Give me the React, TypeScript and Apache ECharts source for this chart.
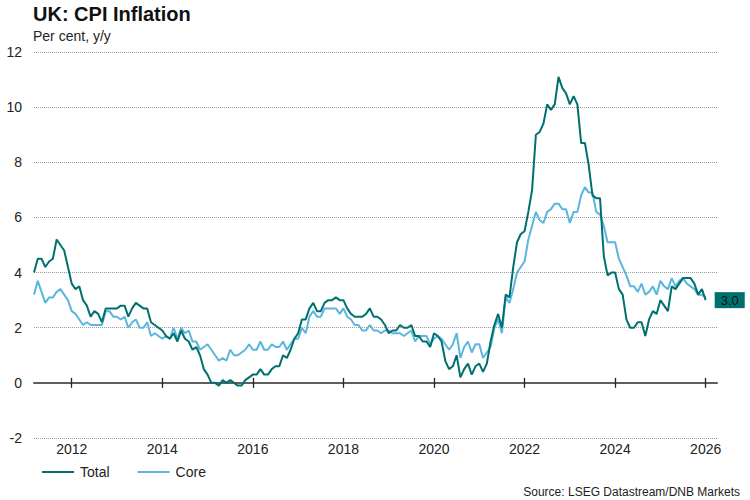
import React, { useEffect, useRef } from "react";
import * as echarts from "echarts";

// Monthly data, March 2011 – January 2026
const startYear = 2011;
const startMonth = 3;

const total: number[] = [
  // 2011 (Mar–Dec)
  4.0, 4.5, 4.5, 4.2, 4.4, 4.5, 5.2, 5.0, 4.8, 4.2,
  // 2012
  3.6, 3.4, 3.5, 3.0, 2.8, 2.4, 2.6, 2.5, 2.2, 2.7, 2.7, 2.7,
  // 2013
  2.7, 2.8, 2.8, 2.4, 2.7, 2.9, 2.8, 2.7, 2.7, 2.2, 2.1, 2.0,
  // 2014
  1.9, 1.7, 1.6, 1.8, 1.5, 1.9, 1.6, 1.5, 1.2, 1.3, 1.0, 0.5,
  // 2015
  0.3, 0.0, 0.0, -0.1, 0.1, 0.0, 0.1, 0.0, -0.1, -0.1, 0.1, 0.2,
  // 2016
  0.3, 0.3, 0.5, 0.3, 0.3, 0.5, 0.6, 0.6, 1.0, 0.9, 1.2, 1.6,
  // 2017
  1.8, 2.3, 2.3, 2.7, 2.9, 2.6, 2.6, 2.9, 3.0, 3.0, 3.1, 3.0,
  // 2018
  3.0, 2.7, 2.5, 2.4, 2.4, 2.4, 2.5, 2.7, 2.4, 2.4, 2.3, 2.1,
  // 2019
  1.8, 1.9, 1.9, 2.1, 2.0, 2.0, 2.1, 1.7, 1.7, 1.5, 1.5, 1.3,
  // 2020
  1.8, 1.7, 1.5, 0.8, 0.5, 0.6, 1.0, 0.2, 0.5, 0.7, 0.3, 0.6,
  // 2021
  0.7, 0.4, 0.7, 1.5, 2.1, 2.5, 2.0, 3.2, 3.1, 4.2, 5.1, 5.4,
  // 2022
  5.5, 6.2, 7.0, 9.0, 9.1, 9.4, 10.1, 9.9, 10.1, 11.1, 10.7, 10.5,
  // 2023
  10.1, 10.4, 10.1, 8.7, 8.7, 7.9, 6.8, 6.7, 6.7, 4.6, 3.9, 4.0,
  // 2024
  4.0, 3.4, 3.2, 2.3, 2.0, 2.0, 2.2, 2.2, 1.7, 2.3, 2.6, 2.5,
  // 2025
  3.0, 2.8, 2.6, 3.5, 3.4, 3.6, 3.8, 3.8, 3.8, 3.6, 3.2, 3.4,
  // 2026
  3.0,
];

const core: number[] = [
  // 2011 (Mar–Dec)
  3.2, 3.7, 3.3, 2.9, 3.1, 3.1, 3.3, 3.4, 3.2, 3.0,
  // 2012
  2.6, 2.5, 2.3, 2.1, 2.2, 2.1, 2.1, 2.1, 2.1, 2.6, 2.6, 2.4,
  // 2013
  2.4, 2.3, 2.4, 2.0, 2.2, 2.3, 2.0, 2.0, 2.2, 1.7, 1.8, 1.7,
  // 2014
  1.6, 1.7, 1.6, 2.0, 1.6, 2.0, 1.8, 1.9, 1.5, 1.5, 1.2, 1.3,
  // 2015
  1.4, 1.2, 1.0, 0.8, 0.9, 0.8, 1.2, 1.0, 1.0, 1.1, 1.2, 1.4,
  // 2016
  1.2, 1.2, 1.5, 1.2, 1.2, 1.4, 1.3, 1.3, 1.5, 1.2, 1.4, 1.6,
  // 2017
  1.6, 2.0, 1.8, 2.4, 2.6, 2.4, 2.4, 2.7, 2.7, 2.7, 2.7, 2.5,
  // 2018
  2.7, 2.4, 2.3, 2.1, 2.1, 1.9, 1.9, 2.1, 1.9, 1.9, 1.8, 1.9,
  // 2019
  1.9, 1.8, 1.8, 1.8, 1.7, 1.8, 1.9, 1.5, 1.7, 1.7, 1.7, 1.4,
  // 2020
  1.6, 1.7, 1.6, 1.4, 1.2, 1.4, 1.8, 0.9, 1.3, 1.5, 1.1, 1.4,
  // 2021
  1.4, 0.9, 1.1, 1.3, 2.0, 2.3, 1.8, 3.1, 2.9, 3.4, 4.0, 4.2,
  // 2022
  4.4, 5.2, 5.7, 6.2, 5.9, 5.8, 6.2, 6.3, 6.5, 6.5, 6.3, 6.3,
  // 2023
  5.8, 6.2, 6.2, 6.8, 7.1, 6.9, 6.9, 6.2, 6.1, 5.7, 5.1, 5.1,
  // 2024
  5.1, 4.5, 4.2, 3.9, 3.5, 3.5, 3.3, 3.6, 3.2, 3.3, 3.5, 3.2,
  // 2025
  3.7, 3.5, 3.4, 3.8, 3.5, 3.7, 3.8, 3.6, 3.5, 3.4, 3.2, 3.2,
  // 2026
  3.1,
];

const trailingMonths = 3; // axis runs a little past the last observation
const yTicks = { min: -2, max: 12, interval: 2 };

const seriesNames = ["Total", "Core"];
const seriesColors = ["#00706f", "#5ab6de"];

const titleText = "UK: CPI Inflation";
const subtitleText = "Per cent, y/y";
const sourceText = "Source: LSEG Datastream/DNB Markets";

const months: string[] = [];
for (let i = 0; i < total.length + trailingMonths; i++) {
  const m0 = startMonth - 1 + i;
  const y = startYear + Math.floor(m0 / 12);
  const m = (m0 % 12) + 1;
  months.push(`${y}-${String(m).padStart(2, "0")}`);
}

const isYearTick = (_: number, value: string) => {
  const [y, m] = value.split("-");
  return m === "01" && Number(y) % 2 === 0;
};

const FONT = "'Liberation Sans', Arial, Helvetica, sans-serif";

export default function App() {
  const ref = useRef<HTMLDivElement>(null);

  useEffect(() => {
    if (!ref.current) return;
    const chart = echarts.init(ref.current, undefined, { renderer: "svg" });
    chart.setOption({
      animation: false,
      backgroundColor: "#ffffff",
      textStyle: { fontFamily: FONT },
      title: [
        {
          text: titleText,
          left: 33,
          top: 4,
          padding: 0,
          textStyle: { fontSize: 20, fontWeight: "bold", color: "#111", fontFamily: FONT },
        },
        {
          text: subtitleText,
          left: 33,
          top: 29,
          padding: 0,
          textStyle: { fontSize: 14, fontWeight: "normal", color: "#222", fontFamily: FONT },
        },
        {
          text: sourceText,
          right: 10,
          bottom: 2,
          padding: 0,
          textStyle: { fontSize: 12, fontWeight: "normal", color: "#222", fontFamily: FONT },
        },
      ],
      legend: {
        left: 42,
        top: 465,
        padding: 0,
        icon: "rect",
        itemWidth: 32,
        itemHeight: 2,
        itemGap: 28,
        textStyle: { fontSize: 14, color: "#222", fontFamily: FONT, padding: [0, 0, 0, 1] },
        data: seriesNames,
      },
      grid: {
        left: 34,
        right: 33,
        top: 52,
        bottom: 62,
        containLabel: false,
        outerBoundsMode: "none",
      },
      xAxis: [
        {
          type: "category",
          data: months,
          boundaryGap: false,
          position: "bottom",
          axisLine: {
            show: true,
            onZero: true,
            onZeroAxisIndex: 0,
            lineStyle: { color: "#5f5f5f", width: 2 },
          },
          axisTick: {
            show: true,
            inside: false,
            length: 5,
            interval: isYearTick,
            lineStyle: { color: "#222", width: 1.3 },
          },
          axisLabel: {
            show: true,
            interval: isYearTick,
            formatter: (v: string) => v.slice(0, 4),
            margin: 4,
            fontSize: 14,
            color: "#222",
            fontFamily: FONT,
          },
          splitLine: { show: false },
        },
        {
          type: "category",
          data: months,
          boundaryGap: false,
          position: "top",
          axisLine: { show: false, onZero: true, onZeroAxisIndex: 0 },
          axisTick: {
            show: true,
            inside: false,
            length: 5,
            interval: isYearTick,
            lineStyle: { color: "#222", width: 1.3 },
          },
          axisLabel: { show: false },
          splitLine: { show: false },
        },
      ],
      yAxis: {
        type: "value",
        min: yTicks.min,
        max: yTicks.max,
        interval: yTicks.interval,
        axisLine: { show: false },
        axisTick: { show: false },
        axisLabel: { margin: 12, fontSize: 14, color: "#222", fontFamily: FONT },
        splitLine: { show: true, lineStyle: { type: "dotted", color: "#9a9a9a", width: 1 } },
      },
      series: [
        {
          name: seriesNames[0],
          type: "line",
          data: total,
          xAxisIndex: 0,
          yAxisIndex: 0,
          symbol: "none",
          z: 4,
          color: seriesColors[0],
          lineStyle: { color: seriesColors[0], width: 2 },
          endLabel: {
            show: true,
            formatter: (p: any) => Number(p.value).toFixed(1),
            backgroundColor: seriesColors[0],
            color: "#111",
            fontSize: 13,
            fontFamily: FONT,
            padding: [2, 6, 1, 6],
            distance: 9,
          },
        },
        {
          name: seriesNames[1],
          type: "line",
          data: core,
          xAxisIndex: 0,
          yAxisIndex: 0,
          symbol: "none",
          z: 3,
          color: seriesColors[1],
          lineStyle: { color: seriesColors[1], width: 2 },
        },
      ],
    });
    return () => chart.dispose();
  }, []);

  return (
    <div
      ref={ref}
      style={{ position: "fixed", left: 0, top: 0, width: 750, height: 500 }}
    />
  );
}
